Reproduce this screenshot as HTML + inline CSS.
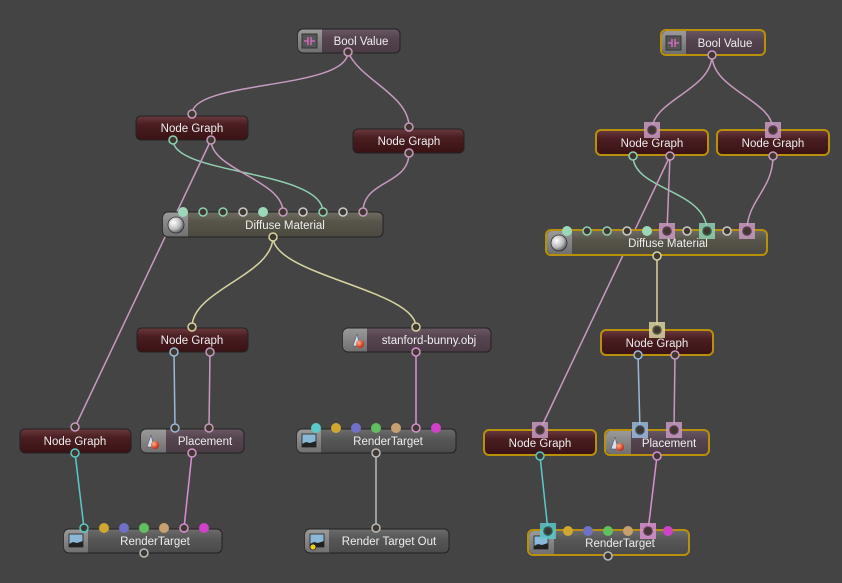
<!DOCTYPE html>
<html><head><meta charset="utf-8">
<style>
html,body{margin:0;padding:0;background:#444;}
svg{display:block;}
text{font-family:"Liberation Sans","DejaVu Sans",sans-serif;font-size:11.5px;fill:#eee;text-anchor:middle;}
</style></head><body>
<svg width="842" height="583" viewBox="0 0 842 583" xmlns="http://www.w3.org/2000/svg">
<defs>
<linearGradient id="gNG" x1="0" y1="0" x2="0" y2="1"><stop offset="0" stop-color="#6a3a3e"/><stop offset="0.35" stop-color="#4a1e22"/><stop offset="1" stop-color="#3a1214"/></linearGradient>
<linearGradient id="gPu" x1="0" y1="0" x2="0" y2="1"><stop offset="0" stop-color="#6a5864"/><stop offset="0.4" stop-color="#54444f"/><stop offset="1" stop-color="#4a3b45"/></linearGradient>
<linearGradient id="gDf" x1="0" y1="0" x2="0" y2="1"><stop offset="0" stop-color="#6e6c60"/><stop offset="0.4" stop-color="#57554a"/><stop offset="1" stop-color="#4c4a40"/></linearGradient>
<linearGradient id="gRT" x1="0" y1="0" x2="0" y2="1"><stop offset="0" stop-color="#6c6c6c"/><stop offset="0.4" stop-color="#575757"/><stop offset="1" stop-color="#4a4a4a"/></linearGradient>
<linearGradient id="gIc" x1="0" y1="0" x2="0" y2="1"><stop offset="0" stop-color="#9a9a9a"/><stop offset="1" stop-color="#707070"/></linearGradient>
<radialGradient id="gBall" cx="0.35" cy="0.35" r="0.7"><stop offset="0" stop-color="#fff"/><stop offset="0.6" stop-color="#bbb"/><stop offset="1" stop-color="#555"/></radialGradient>
<radialGradient id="gRed" cx="0.35" cy="0.35" r="0.7"><stop offset="0" stop-color="#ffb080"/><stop offset="1" stop-color="#c02010"/></radialGradient>
</defs>

<g fill="none" stroke-width="1.5">
<path d="M348 52 C348 90,192 80,192 114" stroke="#c89ac0"/>
<path d="M348 52 C360 80,409 95,409 127" stroke="#c89ac0"/>
<path d="M173 140 C173 175,323 170,323 212" stroke="#8fd0b0"/>
<path d="M211 140 C211 170,283 180,283 212" stroke="#c89ac0"/>
<path d="M211 140 L75 427" stroke="#c89ac0"/>
<path d="M409 153 C409 185,363 180,363 212" stroke="#c89ac0"/>
<path d="M273 237 C273 275,192 290,192 327" stroke="#d8d4a0"/>
<path d="M273 237 C273 275,416 290,416 327" stroke="#d8d4a0"/>
<path d="M174 352 L175 428" stroke="#9ab8d8"/>
<path d="M210 352 L209 428" stroke="#c89ac0"/>
<path d="M416 352 L416 428" stroke="#d890d0"/>
<path d="M75 453 L84 528" stroke="#5cc8c8"/>
<path d="M192 453 L184 528" stroke="#d890d0"/>
<path d="M376 453 L376 528" stroke="#bbb"/>
<path d="M712 55 C712 90,652 100,652 130" stroke="#c89ac0"/>
<path d="M712 55 C712 90,773 100,773 130" stroke="#c89ac0"/>
<path d="M633 156 C633 190,707 190,707 231" stroke="#8fd0b0"/>
<path d="M670 156 L667 231" stroke="#c89ac0"/>
<path d="M670 156 L540 430" stroke="#c89ac0"/>
<path d="M773 156 C773 190,747 200,747 231" stroke="#c89ac0"/>
<path d="M657 256 L657 330" stroke="#d8d4a0"/>
<path d="M638 355 L640 430" stroke="#9ab8d8"/>
<path d="M675 355 L674 430" stroke="#c89ac0"/>
<path d="M540 456 L548 531" stroke="#5cc8c8"/>
<path d="M657 456 L648 531" stroke="#d890d0"/>
</g>

<rect x="298" y="29" width="102" height="24" rx="5" fill="url(#gPu)" stroke="#222"/>
<path d="M303 29.5 h19 v23 h-19 a5 5 0 0 1 -5 -5 v-13 a5 5 0 0 1 5 -5z" fill="url(#gIc)"/>
<rect x="302" y="34" width="15" height="14" fill="#555" stroke="#333"/>
<path d="M304 41 h4 M311 41 h4 M308 37 v8 M311 37 v8" stroke="#e070c8" stroke-width="1.3"/>
<text x="361" y="45">Bool Value</text>

<rect x="136" y="116" width="112" height="24" rx="5" fill="url(#gNG)" stroke="#222"/>
<text x="192" y="132">Node Graph</text>
<rect x="353" y="129" width="111" height="24" rx="5" fill="url(#gNG)" stroke="#222"/>
<text x="409" y="145">Node Graph</text>

<rect x="163" y="212" width="220" height="25" rx="5" fill="url(#gDf)" stroke="#222"/>
<path d="M168 212.5 h20 v24 h-20 a5 5 0 0 1 -5 -5 v-14 a5 5 0 0 1 5 -5z" fill="url(#gIc)"/>
<circle cx="176" cy="225" r="8" fill="url(#gBall)" stroke="#333" stroke-width="0.8"/>
<text x="285" y="229">Diffuse Material</text>

<rect x="137" y="328" width="111" height="24" rx="5" fill="url(#gNG)" stroke="#222"/>
<text x="192" y="344">Node Graph</text>

<rect x="343" y="328" width="148" height="24" rx="5" fill="url(#gPu)" stroke="#222"/>
<path d="M348 328.5 h19 v23 h-19 a5 5 0 0 1 -5 -5 v-13 a5 5 0 0 1 5 -5z" fill="url(#gIc)"/>
<path d="M353 346 L357 334 L360 346z" fill="#cfe0f0" stroke="#445" stroke-width="0.5"/>
<circle cx="360" cy="344" r="4" fill="url(#gRed)"/>
<text x="429" y="344">stanford-bunny.obj</text>

<rect x="20" y="429" width="111" height="24" rx="5" fill="url(#gNG)" stroke="#222"/>
<text x="75" y="445">Node Graph</text>

<rect x="141" y="429" width="103" height="24" rx="5" fill="url(#gPu)" stroke="#222"/>
<path d="M146 429.5 h20 v23 h-20 a5 5 0 0 1 -5 -5 v-13 a5 5 0 0 1 5 -5z" fill="url(#gIc)"/>
<path d="M147 447 L151 435 L154 447z" fill="#cfe0f0" stroke="#445" stroke-width="0.5"/>
<circle cx="155" cy="445" r="4" fill="url(#gRed)"/>
<text x="205" y="445">Placement</text>

<rect x="297" y="429" width="159" height="24" rx="5" fill="url(#gRT)" stroke="#222"/>
<path d="M302 429.5 h19 v23 h-19 a5 5 0 0 1 -5 -5 v-13 a5 5 0 0 1 5 -5z" fill="url(#gIc)"/>
<rect x="302" y="434" width="14" height="13" fill="#8cb8d8" stroke="#222" stroke-width="0.8"/>
<path d="M302 444 l4 -2 l4 1 l6 -2 v6 h-14z" fill="#222"/>
<text x="388" y="445">RenderTarget</text>

<rect x="64" y="529" width="158" height="24" rx="5" fill="url(#gRT)" stroke="#222"/>
<path d="M69 529.5 h19 v23 h-19 a5 5 0 0 1 -5 -5 v-13 a5 5 0 0 1 5 -5z" fill="url(#gIc)"/>
<rect x="69" y="534" width="14" height="13" fill="#8cb8d8" stroke="#222" stroke-width="0.8"/>
<path d="M69 544 l4 -2 l4 1 l6 -2 v6 h-14z" fill="#222"/>
<text x="155" y="545">RenderTarget</text>

<rect x="305" y="529" width="144" height="24" rx="5" fill="url(#gRT)" stroke="#222"/>
<path d="M310 529.5 h19 v23 h-19 a5 5 0 0 1 -5 -5 v-13 a5 5 0 0 1 5 -5z" fill="url(#gIc)"/>
<rect x="310" y="534" width="14" height="13" fill="#8cb8d8" stroke="#222" stroke-width="0.8"/>
<path d="M310 544 l4 -2 l4 1 l6 -2 v6 h-14z" fill="#222"/>
<circle cx="313" cy="547" r="3" fill="#e8d020" stroke="#222" stroke-width="0.8"/>
<text x="389" y="545">Render Target Out</text>

<g stroke="#b8900a" stroke-width="2">
<rect x="661" y="30" width="104" height="25" rx="5" fill="url(#gPu)"/>
<rect x="596" y="130" width="112" height="25" rx="5" fill="url(#gNG)"/>
<rect x="717" y="130" width="112" height="25" rx="5" fill="url(#gNG)"/>
<rect x="546" y="230" width="221" height="25" rx="5" fill="url(#gDf)"/>
<rect x="601" y="330" width="112" height="25" rx="5" fill="url(#gNG)"/>
<rect x="484" y="430" width="112" height="25" rx="5" fill="url(#gNG)"/>
<rect x="605" y="430" width="104" height="25" rx="5" fill="url(#gPu)"/>
<rect x="528" y="530" width="161" height="25" rx="5" fill="url(#gRT)"/>
</g>
<path d="M667 31 h19 v23 h-19 a5 5 0 0 1 -5 -5 v-13 a5 5 0 0 1 5 -5z" fill="url(#gIc)"/>
<rect x="666" y="36" width="15" height="14" fill="#555" stroke="#333"/>
<path d="M668 43 h4 M675 43 h4 M672 39 v8 M675 39 v8" stroke="#e070c8" stroke-width="1.3"/>
<text x="725" y="47">Bool Value</text>
<text x="652" y="147">Node Graph</text>
<text x="773" y="147">Node Graph</text>
<path d="M552 231 h20 v23 h-20 a5 5 0 0 1 -5 -5 v-13 a5 5 0 0 1 5 -5z" fill="url(#gIc)"/>
<circle cx="559" cy="243" r="8" fill="url(#gBall)" stroke="#333" stroke-width="0.8"/>
<text x="668" y="247">Diffuse Material</text>
<text x="657" y="347">Node Graph</text>
<text x="540" y="447">Node Graph</text>
<path d="M611 431 h20 v23 h-20 a5 5 0 0 1 -5 -5 v-13 a5 5 0 0 1 5 -5z" fill="url(#gIc)"/>
<path d="M611 449 L615 437 L618 449z" fill="#cfe0f0" stroke="#445" stroke-width="0.5"/>
<circle cx="620" cy="447" r="4" fill="url(#gRed)"/>
<text x="669" y="447">Placement</text>
<path d="M534 531 h20 v23 h-20 a5 5 0 0 1 -5 -5 v-13 a5 5 0 0 1 5 -5z" fill="url(#gIc)"/>
<rect x="534" y="536" width="14" height="13" fill="#8cb8d8" stroke="#222" stroke-width="0.8"/>
<path d="M534 546 l4 -2 l4 1 l6 -2 v6 h-14z" fill="#222"/>
<text x="620" y="547">RenderTarget</text>

<g fill-opacity="0.85">
<rect x="644" y="122" width="16" height="16" fill="#c89ac0"/>
<rect x="765" y="122" width="16" height="16" fill="#c89ac0"/>
<rect x="659" y="223" width="16" height="16" fill="#c89ac0"/>
<rect x="699" y="223" width="16" height="16" fill="#8fd0b0"/>
<rect x="739" y="223" width="16" height="16" fill="#c89ac0"/>
<rect x="649" y="322" width="16" height="16" fill="#d8d4a0"/>
<rect x="532" y="422" width="16" height="16" fill="#c89ac0"/>
<rect x="632" y="422" width="16" height="16" fill="#9ab8d8"/>
<rect x="666" y="422" width="16" height="16" fill="#c89ac0"/>
<rect x="540" y="523" width="16" height="16" fill="#5cc8c8"/>
<rect x="640" y="523" width="16" height="16" fill="#d890d0"/>
</g>

<g fill="#3e3830" stroke-width="1.5">
<circle cx="348" cy="52" r="4" stroke="#c89ac0"/>
<circle cx="192" cy="114" r="4" stroke="#c89ac0"/>
<circle cx="173" cy="140" r="4" stroke="#8fd0b0"/>
<circle cx="211" cy="140" r="4" stroke="#c89ac0"/>
<circle cx="409" cy="127" r="4" stroke="#c89ac0"/>
<circle cx="409" cy="153" r="4" stroke="#c89ac0"/>
<circle cx="203" cy="212" r="4" stroke="#8fd0b0"/>
<circle cx="223" cy="212" r="4" stroke="#8fd0b0"/>
<circle cx="243" cy="212" r="4" stroke="#ccc"/>
<circle cx="283" cy="212" r="4" stroke="#c89ac0"/>
<circle cx="303" cy="212" r="4" stroke="#ccc"/>
<circle cx="323" cy="212" r="4" stroke="#8fd0b0"/>
<circle cx="343" cy="212" r="4" stroke="#ccc"/>
<circle cx="363" cy="212" r="4" stroke="#c89ac0"/>
<circle cx="273" cy="237" r="4" stroke="#d8d4a0"/>
<circle cx="192" cy="327" r="4" stroke="#d8d4a0"/>
<circle cx="174" cy="352" r="4" stroke="#9ab8d8"/>
<circle cx="210" cy="352" r="4" stroke="#c89ac0"/>
<circle cx="416" cy="327" r="4" stroke="#d8d4a0"/>
<circle cx="416" cy="352" r="4" stroke="#d890d0"/>
<circle cx="75" cy="427" r="4" stroke="#c89ac0"/>
<circle cx="75" cy="453" r="4" stroke="#5cc8c8"/>
<circle cx="175" cy="428" r="4" stroke="#9ab8d8"/>
<circle cx="209" cy="428" r="4" stroke="#c89ac0"/>
<circle cx="192" cy="453" r="4" stroke="#d890d0"/>
<circle cx="416" cy="428" r="4" stroke="#d890d0"/>
<circle cx="376" cy="453" r="4" stroke="#bbb"/>
<circle cx="84" cy="528" r="4" stroke="#5cc8c8"/>
<circle cx="184" cy="528" r="4" stroke="#d890d0"/>
<circle cx="144" cy="553" r="4" stroke="#bbb"/>
<circle cx="376" cy="528" r="4" stroke="#bbb"/>
<circle cx="712" cy="55" r="4" stroke="#c89ac0"/>
<circle cx="652" cy="130" r="4" stroke="#5a3a50"/>
<circle cx="773" cy="130" r="4" stroke="#5a3a50"/>
<circle cx="633" cy="156" r="4" stroke="#8fd0b0"/>
<circle cx="670" cy="156" r="4" stroke="#c89ac0"/>
<circle cx="773" cy="156" r="4" stroke="#c89ac0"/>
<circle cx="587" cy="231" r="4" stroke="#8fd0b0"/>
<circle cx="607" cy="231" r="4" stroke="#8fd0b0"/>
<circle cx="627" cy="231" r="4" stroke="#ccc"/>
<circle cx="667" cy="231" r="4" stroke="#5a3a50"/>
<circle cx="687" cy="231" r="4" stroke="#ccc"/>
<circle cx="707" cy="231" r="4" stroke="#3a5a48"/>
<circle cx="727" cy="231" r="4" stroke="#ccc"/>
<circle cx="747" cy="231" r="4" stroke="#5a3a50"/>
<circle cx="657" cy="256" r="4" stroke="#d8d4a0"/>
<circle cx="657" cy="330" r="4" stroke="#5a5a40"/>
<circle cx="638" cy="355" r="4" stroke="#9ab8d8"/>
<circle cx="675" cy="355" r="4" stroke="#c89ac0"/>
<circle cx="540" cy="430" r="4" stroke="#5a3a50"/>
<circle cx="540" cy="456" r="4" stroke="#5cc8c8"/>
<circle cx="640" cy="430" r="4" stroke="#3a4a5a"/>
<circle cx="674" cy="430" r="4" stroke="#5a3a50"/>
<circle cx="657" cy="456" r="4" stroke="#d890d0"/>
<circle cx="548" cy="531" r="4" stroke="#2a5a5a"/>
<circle cx="648" cy="531" r="4" stroke="#5a3a50"/>
<circle cx="608" cy="556" r="4" stroke="#bbb"/>
</g>

<g>
<circle cx="183" cy="212" r="5" fill="#9ad8b8"/>
<circle cx="263" cy="212" r="5" fill="#9ad8b8"/>
<circle cx="567" cy="231" r="5" fill="#9ad8b8"/>
<circle cx="647" cy="231" r="5" fill="#9ad8b8"/>
<circle cx="316" cy="428" r="5" fill="#5cc8c8"/>
<circle cx="336" cy="428" r="5" fill="#d0a830"/>
<circle cx="356" cy="428" r="5" fill="#7070c8"/>
<circle cx="376" cy="428" r="5" fill="#60c060"/>
<circle cx="396" cy="428" r="5" fill="#c8a070"/>
<circle cx="436" cy="428" r="5" fill="#d040c8"/>
<circle cx="104" cy="528" r="5" fill="#d0a830"/>
<circle cx="124" cy="528" r="5" fill="#7070c8"/>
<circle cx="144" cy="528" r="5" fill="#60c060"/>
<circle cx="164" cy="528" r="5" fill="#c8a070"/>
<circle cx="204" cy="528" r="5" fill="#d040c8"/>
<circle cx="568" cy="531" r="5" fill="#d0a830"/>
<circle cx="588" cy="531" r="5" fill="#7070c8"/>
<circle cx="608" cy="531" r="5" fill="#60c060"/>
<circle cx="628" cy="531" r="5" fill="#c8a070"/>
<circle cx="668" cy="531" r="5" fill="#d040c8"/>
</g>
</svg>
</body></html>
